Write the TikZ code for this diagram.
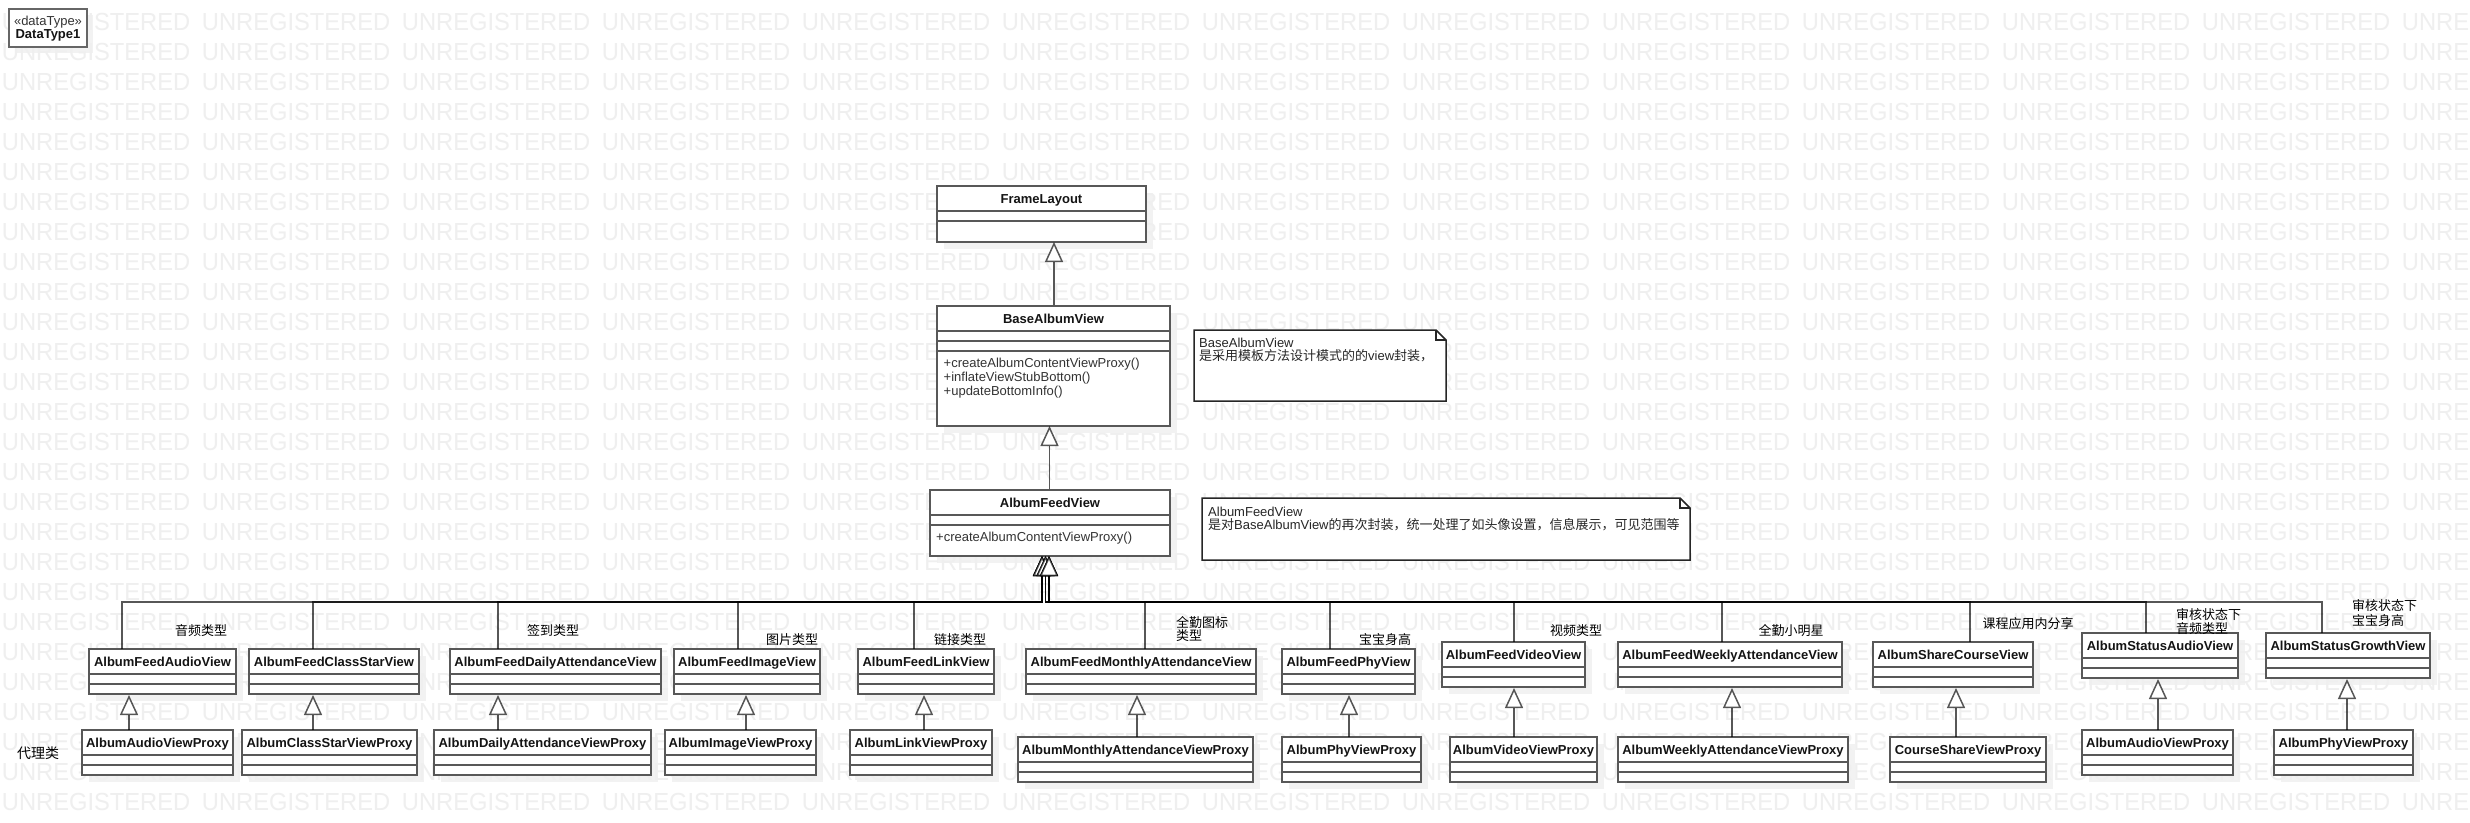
\documentclass[tikz,border=0pt]{standalone}
\usepackage{fontspec}
\usepackage{graphicx}
\setmainfont{Liberation Sans}
\newfontfamily\cjk{Noto Sans CJK SC}
\usetikzlibrary{arrows.meta,calc}
\definecolor{wmc}{RGB}{239,239,239}
\definecolor{bord}{RGB}{88,88,88}
\definecolor{shad}{RGB}{242,242,242}
\pgfdeclarelayer{bg}\pgfdeclarelayer{wm}\pgfsetlayers{bg,wm,main}
\tikzset{
 x=1pt,y=-1pt,
 clsbox/.style={draw=bord, line width=2pt, fill=white, inner sep=0pt, rectangle},
 clsline/.style={draw=bord, line width=2pt},
 dtbox/.style={draw=black!60, line width=2.6pt, fill=white, inner sep=0pt, rectangle},
 ctitle/.style={font=\fontsize{13}{15}\selectfont\bfseries, inner sep=0pt, text=black!92},
 optext/.style={font=\fontsize{13}{14}\selectfont, inner sep=0pt, text=black!80},
 notetext/.style={font=\fontsize{13}{14}\selectfont, inner sep=0pt, text=black!85, anchor=base west},
 lbl/.style={font=\fontsize{13}{14}\selectfont\cjk, inner sep=0pt, text=black},
 notebox/.style={draw=black!85, line width=1.5pt, fill=white, line join=miter},
 notefold/.style={draw=black!85, line width=1.2pt},
 gen/.style={draw=black, draw opacity=0.66, line width=1.5pt,
   -{Triangle[length=20pt,width=18pt,fill=white,line width=1.5pt]}},
 wmtext/.style={font=\fontsize{24.7}{26}\selectfont, text=wmc, inner sep=0pt, anchor=base west},
}
\newcommand\wmw{\makebox[200pt][l]{\scalebox{0.96}[1]{UNREGISTERED}}}
\newcommand\wmrow{\wmw\wmw\wmw\wmw\wmw\wmw\wmw\wmw\wmw\wmw\wmw\wmw\wmw}
% class box: name, x1, y1, x2, y2, title, divider offsets
\newcommand\cls[7]{%
 \begin{pgfonlayer}{bg}\fill[shad] (#2+7,#3+7) rectangle (#4+7,#5+7);\end{pgfonlayer}
 \node[clsbox, minimum width={#4-#2}, minimum height={#5-#3}] (#1) at ({(#2+#4)/2},{(#3+#5)/2}) {};
 \node[ctitle, anchor=base] (#1t) at ({(#2+#4)/2},{#3+17.5}) {#6};
 \foreach \dv in {#7} {\draw[clsline] (#2,#3+\dv) -- (#4,#3+\dv);}
}
% note: x1, y1, x2, y2
\newcommand\umlnote[4]{%
 \draw[notebox] (#1,#2) -- (#3-10,#2) -- (#3,#2+10) -- (#3,#4) -- (#1,#4) -- cycle;
 \draw[notefold] (#3-10,#2) -- (#3-10,#2+10) -- (#3,#2+10);
}
\begin{document}
\begin{tikzpicture}
\useasboundingbox (0,0) rectangle (2470,822);
\begin{pgfonlayer}{bg}\fill[white] (0,0) rectangle (2470,822);\end{pgfonlayer}
\begin{pgfonlayer}{wm}
\begin{scope}
\clip (0,0) rectangle (2470,822);
\foreach \r in {0,...,26} {\node[wmtext] (wm\r) at (1.7,{30.7+30*\r}) {\wmrow};}
\end{scope}
\end{pgfonlayer}

% DataType1
\begin{pgfonlayer}{bg}\fill[shad] (15,15) rectangle (93,53);\end{pgfonlayer}
\node[dtbox, minimum width=78, minimum height=38] (dt) at (48,28) {};
\node[optext, anchor=base] (dt1) at (48,25) {«dataType»};
\node[ctitle, anchor=base] (dt2) at (48,38.5) {DataType1};

% hierarchy top
\cls{fl}{937}{186}{1146}{242}{FrameLayout}{25,35}
\cls{bav}{937}{306}{1170}{426}{BaseAlbumView}{25,35,45}
\node[optext, anchor=base west] (bm1) at (943.5,367.5) {+createAlbumContentViewProxy()};
\node[optext, anchor=base west] (bm2) at (943.5,381.5) {+inflateViewStubBottom()};
\node[optext, anchor=base west] (bm3) at (943.5,395.5) {+updateBottomInfo()};
\cls{afv}{930}{490}{1170}{556}{AlbumFeedView}{25,35}
\node[optext, anchor=base west] (am1) at (936,541) {+createAlbumContentViewProxy()};

% notes
\umlnote{1194}{330}{1446}{401}
\node[notetext] (n1a) at (1199,347) {BaseAlbumView};
\node[notetext] (n1b) at (1199,360) {{\cjk 是采用模板方法设计模式的的}view{\cjk 封装，}};
\umlnote{1202}{498}{1690}{560}
\node[notetext] (n2a) at (1208,516) {AlbumFeedView};
\node[notetext] (n2b) at (1208,529) {{\cjk 是对}BaseAlbumView{\cjk 的再次封装，统一处理了如头像设置，信息展示，可见范围等}};

% first row
\cls{v1}{89}{649}{236}{694}{AlbumFeedAudioView}{25,35}
\cls{v2}{249}{649}{419}{694}{AlbumFeedClassStarView}{25,35}
\cls{v3}{450}{649}{661}{694}{AlbumFeedDailyAttendanceView}{25,35}
\cls{v4}{674}{649}{820}{694}{AlbumFeedImageView}{25,35}
\cls{v5}{858}{649}{994}{694}{AlbumFeedLinkView}{25,35}
\cls{v6}{1026}{649}{1256}{694}{AlbumFeedMonthlyAttendanceView}{25,35}
\cls{v7}{1282}{649}{1415}{694}{AlbumFeedPhyView}{25,35}
\cls{v8}{1442}{642}{1585}{687}{AlbumFeedVideoView}{25,35}
\cls{v9}{1618}{642}{1842}{687}{AlbumFeedWeeklyAttendanceView}{25,35}
\cls{v10}{1873}{642}{2033}{687}{AlbumShareCourseView}{25,35}
\cls{v11}{2082}{633}{2238}{678}{AlbumStatusAudioView}{25,35}
\cls{v12}{2266}{633}{2430}{678}{AlbumStatusGrowthView}{25,35}

% proxies
\cls{p1}{82}{730}{233}{775}{AlbumAudioViewProxy}{25,35}
\cls{p2}{242}{730}{417}{775}{AlbumClassStarViewProxy}{25,35}
\cls{p3}{434}{730}{651}{775}{AlbumDailyAttendanceViewProxy}{25,35}
\cls{p4}{665}{730}{816}{775}{AlbumImageViewProxy}{25,35}
\cls{p5}{850}{730}{992}{775}{AlbumLinkViewProxy}{25,35}
\cls{p6}{1018}{737}{1253}{782}{AlbumMonthlyAttendanceViewProxy}{25,35}
\cls{p7}{1282}{737}{1421}{782}{AlbumPhyViewProxy}{25,35}
\cls{p8}{1450}{737}{1597}{782}{AlbumVideoViewProxy}{25,35}
\cls{p9}{1618}{737}{1848}{782}{AlbumWeeklyAttendanceViewProxy}{25,35}
\cls{p10}{1890}{737}{2046}{782}{CourseShareViewProxy}{25,35}
\cls{p11}{2082}{730}{2233}{775}{AlbumAudioViewProxy}{25,35}
\cls{p12}{2274}{730}{2413}{775}{AlbumPhyViewProxy}{25,35}

% labels
\node[lbl, anchor=base] (l1) at (201,635) {音频类型};
\node[lbl, anchor=base] (l3) at (553,635) {签到类型};
\node[lbl, anchor=base] (l4) at (792,644) {图片类型};
\node[lbl, anchor=base] (l5) at (960,644) {链接类型};
\node[lbl, anchor=base west] (l6a) at (1176,627) {全勤图标};
\node[lbl, anchor=base west] (l6b) at (1176,640) {类型};
\node[lbl, anchor=base] (l7) at (1385,644) {宝宝身高};
\node[lbl, anchor=base] (l8) at (1576,635) {视频类型};
\node[lbl, anchor=base] (l9) at (1791,635) {全勤小明星};
\node[lbl, anchor=base] (l10) at (2028,628) {课程应用内分享};
\node[lbl, anchor=base west] (l11a) at (2176,619) {审核状态下};
\node[lbl, anchor=base west] (l11b) at (2176,633) {音频类型};
\node[lbl, anchor=base west] (l12a) at (2352,610) {审核状态下};
\node[lbl, anchor=base west] (l12b) at (2352,625) {宝宝身高};
\node[lbl, anchor=base, font=\fontsize{14}{15}\selectfont\cjk] (lp) at (38,758) {代理类};

% generalizations: top chain
\coordinate (flA) at (1054,242);
\draw[gen] (bav.north -| flA) -- (flA);
\coordinate (bavA) at (1049.5,426);
\draw[gen] (afv.north -| bavA) -- (bavA);

% bus to AlbumFeedView
\coordinate (bus) at (0,602);
\coordinate (tA) at (1042,556);
\coordinate (tB) at (1045.5,556);
\coordinate (tC) at (1049,556);
\coordinate (k1) at (122,649);
\coordinate (k2) at (313,649);
\coordinate (k3) at (498,649);
\coordinate (k4) at (738,649);
\coordinate (k5) at (914,649);
\coordinate (k6) at (1145,649);
\coordinate (k7) at (1330,649);
\coordinate (k8) at (1514,642);
\coordinate (k9) at (1722,642);
\coordinate (k10) at (1970,642);
\coordinate (k11) at (2146,633);
\coordinate (k12) at (2322,633);
\foreach \k in {1,...,5} {\draw[gen] (k\k) |- (bus -| tA) -- (tA);}
\foreach \k in {6,7,8} {\draw[gen] (k\k) |- (bus -| tB) -- (tB);}
\foreach \k in {9,...,12} {\draw[gen] (k\k) |- (bus -| tC) -- (tC);}

% proxies to views
\coordinate (a1) at (129,730);
\coordinate (a2) at (313,730);
\coordinate (a3) at (498,730);
\coordinate (a4) at (746,730);
\coordinate (a5) at (924,730);
\coordinate (a6) at (1137,737);
\coordinate (a7) at (1349,737);
\coordinate (a8) at (1514,737);
\coordinate (a9) at (1732,737);
\coordinate (a10) at (1956,737);
\coordinate (a11) at (2158,730);
\coordinate (a12) at (2347,730);
\foreach \k in {1,...,12} {\draw[gen] (a\k) -- (a\k |- v\k.south);}
\end{tikzpicture}
\end{document}
